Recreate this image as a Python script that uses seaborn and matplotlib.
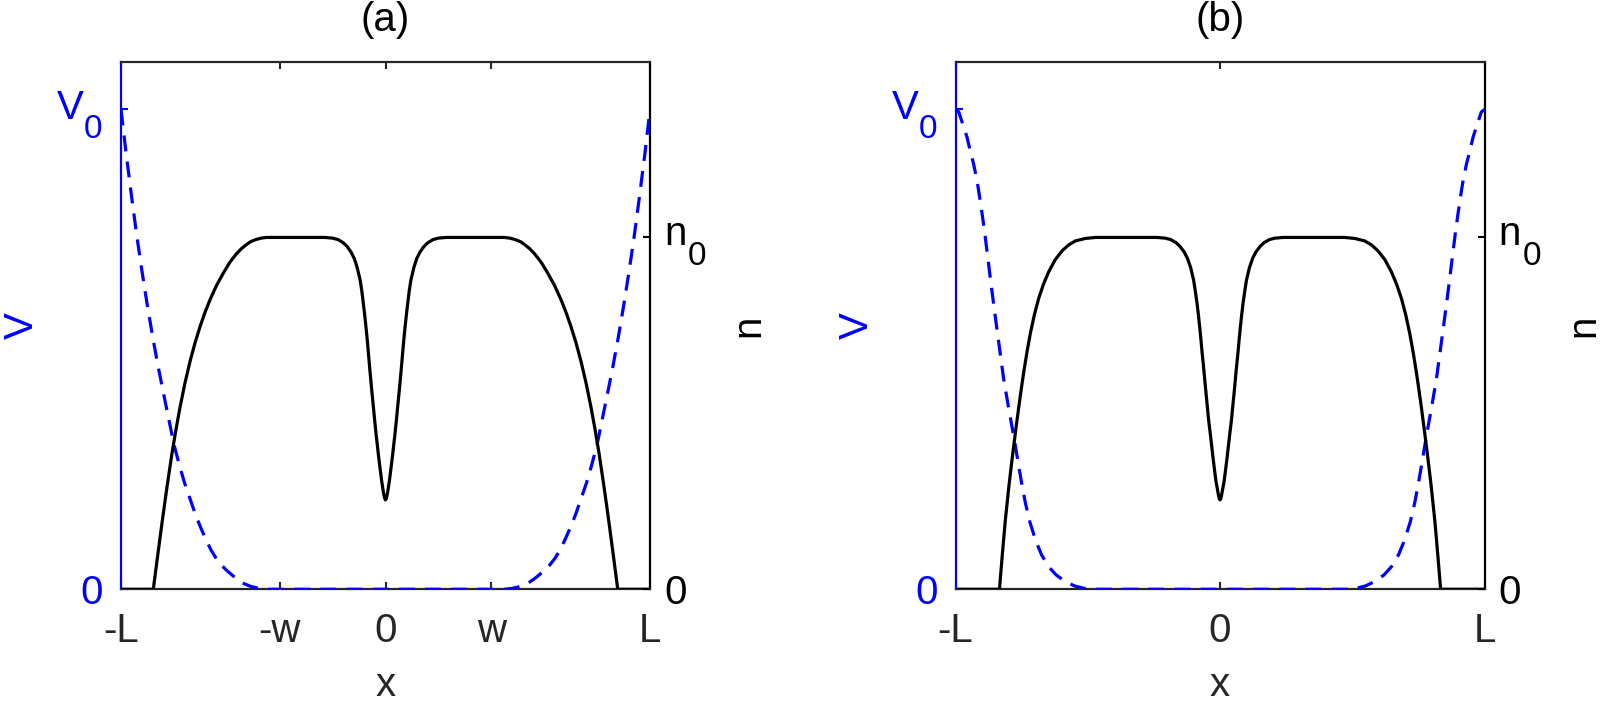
import matplotlib
matplotlib.use("Agg")
import matplotlib.pyplot as plt
import seaborn as sns

# ---------------- data (x in units of L) ----------------
V0 = 1.0
N0 = 1.0
W = 0.4

xticks_a = [-1.0, -W, 0.0, W, 1.0]
xticklabels_a = ["-L", "-w", "0", "w", "L"]
xticks_b = [-1.0, 0.0, 1.0]
xticklabels_b = ["-L", "0", "L"]
titles = ["(a)", "(b)"]

# panel (a) density n(x)
xa_n = [-1.000, -0.878, -0.860, -0.843, -0.826, -0.808, -0.792, -0.777, -0.758, -0.739,
        -0.720, -0.701, -0.683, -0.664, -0.640, -0.613, -0.588, -0.563, -0.545, -0.527,
        -0.510, -0.490, -0.470, -0.449, -0.300, -0.230, -0.200, -0.180, -0.160, -0.145,
        -0.130, -0.118, -0.107, -0.096, -0.090, -0.084, -0.079, -0.074, -0.069, -0.065,
        -0.060, -0.056, -0.051, -0.046, -0.041, -0.036, -0.031, -0.027, -0.022, -0.018,
        -0.014, -0.010, -0.006, -0.003, 0.000,
        0.003, 0.006, 0.010, 0.014, 0.018, 0.022, 0.027, 0.031, 0.036, 0.041,
        0.046, 0.051, 0.056, 0.060, 0.065, 0.069, 0.074, 0.079, 0.084, 0.090,
        0.096, 0.107, 0.118, 0.130, 0.145, 0.160, 0.180, 0.200, 0.230, 0.300,
        0.449, 0.470, 0.490, 0.510, 0.527, 0.545, 0.563, 0.588, 0.613, 0.640,
        0.664, 0.683, 0.701, 0.720, 0.739, 0.758, 0.777, 0.792, 0.808, 0.826,
        0.843, 0.860, 0.878, 1.000]
na = [0.000, 0.000, 0.104, 0.200, 0.292, 0.383, 0.455, 0.517, 0.587, 0.648,
      0.701, 0.747, 0.786, 0.822, 0.862, 0.899, 0.930, 0.954, 0.968, 0.979,
      0.988, 0.994, 0.998, 1.000, 1.000, 1.000, 0.998, 0.994, 0.985, 0.974,
      0.958, 0.940, 0.914, 0.879, 0.850, 0.813, 0.781, 0.746, 0.708, 0.674,
      0.630, 0.597, 0.557, 0.519, 0.480, 0.443, 0.410, 0.383, 0.352, 0.328,
      0.305, 0.285, 0.268, 0.258, 0.254,
      0.258, 0.268, 0.285, 0.305, 0.328, 0.352, 0.383, 0.410, 0.443, 0.480,
      0.519, 0.557, 0.597, 0.630, 0.674, 0.708, 0.746, 0.781, 0.813, 0.850,
      0.879, 0.914, 0.940, 0.958, 0.974, 0.985, 0.994, 0.998, 1.000, 1.000,
      1.000, 0.998, 0.994, 0.988, 0.979, 0.968, 0.954, 0.930, 0.899, 0.862,
      0.822, 0.786, 0.747, 0.701, 0.648, 0.587, 0.517, 0.455, 0.383, 0.292,
      0.200, 0.104, 0.000, 0.000]

# panel (a) potential V(x)
xa_v = [-1.000, -0.980, -0.960, -0.940, -0.920, -0.900, -0.880, -0.860, -0.840, -0.820,
        -0.800, -0.780, -0.760, -0.740, -0.720, -0.700, -0.680, -0.660, -0.640, -0.620,
        -0.600, -0.570, -0.540, -0.510, -0.480, -0.450,
        0.450, 0.480, 0.510, 0.540, 0.570, 0.600, 0.620, 0.640, 0.660, 0.680,
        0.700, 0.720, 0.740, 0.760, 0.780, 0.800, 0.820, 0.840, 0.860, 0.880,
        0.900, 0.920, 0.940, 0.960, 0.980, 1.000]
va = [1.000, 0.905, 0.818, 0.735, 0.660, 0.590, 0.525, 0.465, 0.410, 0.356,
      0.302, 0.260, 0.222, 0.190, 0.158, 0.130, 0.105, 0.082, 0.064, 0.050,
      0.039, 0.025, 0.013, 0.006, 0.002, 0.000,
      0.000, 0.002, 0.006, 0.013, 0.025, 0.039, 0.050, 0.064, 0.082, 0.105,
      0.130, 0.158, 0.190, 0.222, 0.260, 0.302, 0.356, 0.410, 0.465, 0.525,
      0.590, 0.660, 0.735, 0.818, 0.905, 1.000]

# panel (b) density n(x)
xb_n = [-1.000, -0.834, -0.823, -0.812, -0.798, -0.784, -0.772, -0.761, -0.751, -0.742,
        -0.730, -0.717, -0.702, -0.686, -0.668, -0.648, -0.623, -0.597, -0.572, -0.547,
        -0.510, -0.471, -0.300, -0.240, -0.208, -0.187, -0.166, -0.151, -0.135, -0.123,
        -0.111, -0.100, -0.094, -0.087, -0.082, -0.077, -0.072, -0.068, -0.062, -0.058,
        -0.053, -0.048, -0.043, -0.037, -0.032, -0.028, -0.023, -0.019, -0.015, -0.010,
        -0.006, -0.003, 0.000,
        0.003, 0.006, 0.010, 0.015, 0.019, 0.023, 0.028, 0.032, 0.037, 0.043,
        0.048, 0.053, 0.058, 0.062, 0.068, 0.072, 0.077, 0.082, 0.087, 0.094,
        0.100, 0.111, 0.123, 0.135, 0.151, 0.166, 0.187, 0.208, 0.240, 0.300,
        0.471, 0.510, 0.547, 0.572, 0.597, 0.623, 0.648, 0.668, 0.686, 0.702,
        0.717, 0.730, 0.742, 0.751, 0.761, 0.772, 0.784, 0.798, 0.812, 0.823,
        0.834, 1.000]
nb = [0.000, 0.000, 0.100, 0.195, 0.295, 0.384, 0.455, 0.518, 0.572, 0.618,
      0.674, 0.728, 0.780, 0.826, 0.866, 0.902, 0.937, 0.962, 0.979, 0.990,
      0.997, 1.000, 1.000, 1.000, 0.998, 0.994, 0.985, 0.974, 0.958, 0.940,
      0.914, 0.879, 0.850, 0.813, 0.781, 0.746, 0.708, 0.674, 0.630, 0.597,
      0.557, 0.519, 0.480, 0.443, 0.410, 0.383, 0.352, 0.328, 0.305, 0.285,
      0.268, 0.258, 0.254,
      0.258, 0.268, 0.285, 0.305, 0.328, 0.352, 0.383, 0.410, 0.443, 0.480,
      0.519, 0.557, 0.597, 0.630, 0.674, 0.708, 0.746, 0.781, 0.813, 0.850,
      0.879, 0.914, 0.940, 0.958, 0.974, 0.985, 0.994, 0.998, 1.000, 1.000,
      1.000, 0.997, 0.990, 0.979, 0.962, 0.937, 0.902, 0.866, 0.826, 0.780,
      0.728, 0.674, 0.618, 0.572, 0.518, 0.455, 0.384, 0.295, 0.195, 0.100,
      0.000, 0.000]

# panel (b) potential V(x)
xb_v = [-1.000, -0.988, -0.970, -0.957, -0.945, -0.932, -0.920, -0.913, -0.900, -0.890,
        -0.880, -0.868, -0.855, -0.843, -0.830, -0.818, -0.800, -0.786, -0.773, -0.761,
        -0.748, -0.736, -0.720, -0.698, -0.675, -0.648, -0.620, -0.585, -0.550, -0.522,
        -0.500, -0.470,
        0.470, 0.500, 0.522, 0.550, 0.585, 0.620, 0.648, 0.675, 0.698, 0.720,
        0.736, 0.748, 0.761, 0.773, 0.786, 0.800, 0.818, 0.830, 0.843, 0.855,
        0.868, 0.880, 0.890, 0.900, 0.913, 0.920, 0.932, 0.945, 0.957, 0.970,
        0.988, 1.000]
vb = [1.000, 0.995, 0.965, 0.943, 0.915, 0.887, 0.855, 0.832, 0.784, 0.744,
      0.700, 0.646, 0.590, 0.540, 0.487, 0.438, 0.380, 0.337, 0.296, 0.256,
      0.215, 0.180, 0.142, 0.103, 0.072, 0.047, 0.030, 0.016, 0.007, 0.003,
      0.0005, 0.000,
      0.000, 0.0005, 0.003, 0.007, 0.016, 0.030, 0.047, 0.072, 0.103, 0.142,
      0.180, 0.215, 0.256, 0.296, 0.337, 0.380, 0.438, 0.487, 0.540, 0.590,
      0.646, 0.700, 0.744, 0.784, 0.832, 0.855, 0.887, 0.915, 0.943, 0.965,
      0.995, 1.000]

# ---------------- styling ----------------
sns.set_theme(style="white")
plt.rcParams["font.family"] = ["Liberation Sans", "DejaVu Sans"]

FS = 29
FS_SUB = 24
GRAY = "#262626"
BLUE = (0, 0, 1)
LW = 2.3

fig = plt.figure(figsize=(16.03, 7.11), dpi=100)
fig.patch.set_facecolor("white")

panels = [
    (0.0755, xa_n, na, xa_v, va, xticks_a, xticklabels_a, titles[0]),
    (0.5961, xb_n, nb, xb_v, vb, xticks_b, xticklabels_b, titles[1]),
]

for left, xn, nn, xv, vv, xt, xtl, ttl in panels:
    ax = fig.add_axes([left, 0.1712, 0.330, 0.7423])
    ax2 = ax.twinx()

    sns.lineplot(x=xv, y=vv, ax=ax, color=BLUE, lw=LW, sort=False,
                 estimator=None, linestyle=(0, (5.0, 3.2)), zorder=3)
    sns.lineplot(x=xn, y=nn, ax=ax2, color="black", lw=LW, sort=False,
                 estimator=None, zorder=3)

    ax.set_xlim(-1, 1)
    ax.set_ylim(0, 1.1 * V0)
    ax2.set_ylim(0, 1.5 * N0)

    ax.set_xticks(xt)
    ax.set_xticklabels(xtl)
    ax.set_yticks([0, V0])
    ax.set_yticklabels(["0", ""])
    ax2.set_yticks([0, N0])
    ax2.set_yticklabels(["0", ""])

    ax.tick_params(axis="x", direction="in", length=5, width=1.5, colors=GRAY,
                   labelsize=FS, pad=16.5, top=True, bottom=True)
    ax.tick_params(axis="y", direction="in", length=5, width=1.5, colors=BLUE,
                   labelsize=FS, pad=13, left=True, right=False)
    ax2.tick_params(axis="y", direction="in", length=5, width=1.5, colors="black",
                    labelsize=FS, pad=10, right=True, left=False)

    # subscripted tick labels V_0 and n_0
    ax.annotate("V", xy=(0, V0), xycoords=("axes fraction", "data"),
                xytext=(-26.6, -6.5), textcoords="offset points",
                ha="right", va="baseline", fontsize=FS, color=BLUE,
                annotation_clip=False)
    ax.annotate("0", xy=(0, V0), xycoords=("axes fraction", "data"),
                xytext=(-26.6, -20.2), textcoords="offset points",
                ha="left", va="baseline", fontsize=FS_SUB, color=BLUE,
                annotation_clip=False)
    ax2.annotate("n", xy=(1, N0), xycoords=("axes fraction", "data"),
                 xytext=(10.0, -5.3), textcoords="offset points",
                 ha="left", va="baseline", fontsize=FS, color="black",
                 annotation_clip=False)
    ax2.annotate("0", xy=(1, N0), xycoords=("axes fraction", "data"),
                 xytext=(27.4, -19.7), textcoords="offset points",
                 ha="left", va="baseline", fontsize=FS_SUB, color="black",
                 annotation_clip=False)

    for s in ax2.spines.values():
        s.set_visible(False)
    ax.spines["left"].set_color(BLUE)
    ax.spines["right"].set_color("black")
    ax.spines["top"].set_color(GRAY)
    ax.spines["bottom"].set_color(GRAY)
    for s in ax.spines.values():
        s.set_linewidth(1.6)
        s.set_visible(True)

    ax.set_xlabel("x", fontsize=FS, color=GRAY)
    ax.xaxis.set_label_coords(0.5, -0.145)
    ax.set_ylabel("V", fontsize=FS, color=BLUE)
    ax.yaxis.set_label_coords(-0.151, 0.5)
    ax2.set_ylabel("n", fontsize=FS, color="black")
    ax2.yaxis.set_label_coords(1.150, 0.5)

    ax.set_title(ttl, fontsize=FS, color="black", pad=22)

fig.savefig("out.png", dpi=100, facecolor="white")
